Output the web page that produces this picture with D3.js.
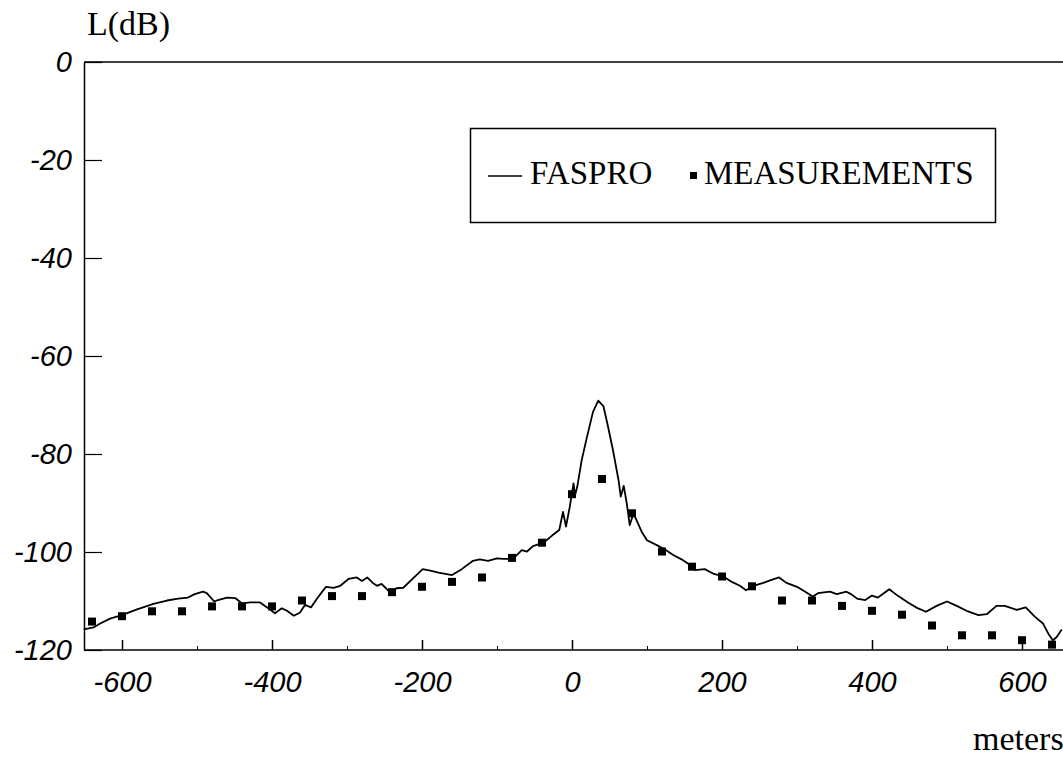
<!DOCTYPE html>
<html>
<head>
<meta charset="utf-8">
<script src="https://cdn.jsdelivr.net/npm/d3@7"></script>
<style>
  body { margin: 0; background: #fff; }
  .tick text { font-family: "Liberation Sans", Arial, sans-serif; font-style: italic; font-size: 29px; fill: #000; }
  .serif { font-family: "Liberation Serif", "Times New Roman", serif; fill: #000; }
</style>
</head>
<body>
<div id="chart"></div>
<script>
// FASPRO prediction (distance in m, level in dB)
var fasproX = [-651, -638, -629, -616, -600, -580, -558, -540, -525, -512, -503, -492, -487, -477, -472, -460, -449, -440, -429, -416,
  -405, -396, -387, -380, -371, -363, -356, -348, -338, -328, -318, -309, -298, -287, -280, -273, -265, -260, -254, -248,
  -242, -234, -225, -212, -199, -189, -178, -167, -160, -147, -132, -123, -112, -100, -92, -83, -78, -67, -60, -52,
  -38, -27, -17, -12, -8, -5, -3, 2, 4, 7, 13, 20, 28, 35, 42, 48, 55, 62, 65, 69,
  73, 77, 82, 86, 93, 100, 113, 124, 135, 146, 155, 164, 177, 188, 202, 213, 224, 232, 242, 255,
  266, 276, 286, 300, 311, 321, 328, 344, 353, 366, 372, 380, 391, 400, 408, 423, 435, 448, 460, 472,
  486, 500, 513, 526, 542, 553, 566, 577, 593, 605, 617, 628, 636, 641, 646, 653];
var fasproDb = [-115.8, -115.4, -114.6, -113.6, -112.9, -111.7, -110.6, -109.9, -109.5, -109.3, -108.6, -108.1, -108.4, -110.1, -109.8, -109.3, -109.4, -110.5, -110.3, -110.3,
  -111.5, -112.5, -111.5, -112.0, -113.0, -112.4, -110.8, -111.3, -109.1, -107.1, -107.3, -106.9, -105.5, -105.2, -105.9, -105.2, -106.4, -106.9, -106.5, -107.4,
  -108.4, -107.4, -107.3, -105.4, -103.5, -103.8, -104.2, -104.5, -104.7, -103.5, -101.8, -101.5, -101.8, -101.3, -101.4, -101.4, -101.3, -99.6, -99.9, -98.8,
  -98.1, -96.7, -95.5, -91.8, -94.8, -92.4, -90.8, -86.0, -88.4, -86.7, -81.2, -76.5, -71.4, -69.1, -70.3, -74.4, -79.5, -85.3, -88.7, -86.5,
  -90.1, -94.5, -92.1, -93.5, -95.9, -97.6, -98.6, -99.5, -100.6, -101.5, -102.4, -103.7, -103.5, -104.4, -105.0, -106.1, -106.9, -107.8, -106.9, -106.3,
  -105.7, -105.2, -106.3, -107.1, -108.1, -109.1, -108.4, -108.1, -108.6, -108.1, -108.6, -109.5, -109.8, -108.9, -109.3, -107.6, -109.0, -110.3, -111.4, -112.2,
  -111.0, -110.1, -111.0, -112.0, -112.9, -112.7, -111.0, -111.0, -111.8, -111.3, -113.2, -114.6, -116.9, -118.0, -117.4, -115.8];

// measurements
var measX = [-640, -600, -560, -520, -480, -440, -400, -360, -320, -280, -240, -200, -160, -120, -80, -40, 0,
  40, 80, 120, 160, 200, 240, 280, 320, 360, 400, 440, 480, 520, 560, 600, 640];
var measDb = [-114.2, -113.1, -112.1, -112.1, -111.1, -111.1, -111.1, -109.9, -109.0, -109.0, -108.2, -107.1, -106.1, -105.2, -101.2, -98.1, -88.2,
  -85.1, -92.1, -99.9, -103.0, -105.0, -107.0, -109.9, -109.9, -111.0, -112.0, -112.8, -115.0, -117.0, -117.0, -118.0, -118.9];

var xTicks = [-600, -400, -200, 0, 200, 400, 600];
var xMinorTicks = [-500, -300, -100, 100, 300, 500];
var yTicks = [0, -20, -40, -60, -80, -100, -120];

var w = 1063, h = 760;
var plotLeft = 84, plotTop = 62, plotBottom = 650;

var svg = d3.select("#chart").append("svg")
    .attr("width", w)
    .attr("height", h);

var x = d3.scaleLinear().domain([-650, 650]).range([84.5, 1059.5]);
var y = d3.scaleLinear().domain([-120, 0]).range([plotBottom, plotTop]);

var fmt = function(d) { return String(d); }; // plain hyphen for minus

// frame: top line runs off the right edge
svg.append("line")
    .attr("x1", plotLeft).attr("x2", w)
    .attr("y1", plotTop).attr("y2", plotTop)
    .attr("stroke", "#000").attr("stroke-width", 1.5);

var yAxis = d3.axisLeft(y).tickValues(yTicks).tickSizeInner(-18).tickSizeOuter(0).tickPadding(12)
    .tickFormat(fmt);
svg.append("g")
    .attr("transform", "translate(" + plotLeft + ",0)")
    .call(yAxis)
    .call(function(g) {
        g.select(".domain").attr("stroke-width", 1.5);
        g.selectAll(".tick line").attr("stroke-width", 1.2);
    });

var xAxis = d3.axisBottom(x).tickValues(xTicks).tickSizeInner(-10).tickSizeOuter(0).tickPadding(21)
    .tickFormat(fmt);
svg.append("g")
    .attr("transform", "translate(0," + plotBottom + ")")
    .call(xAxis)
    .call(function(g) {
        g.select(".domain").attr("d", "M" + plotLeft + ",0H" + w).attr("stroke-width", 1.5);
        g.selectAll(".tick line").attr("stroke-width", 1.5);
    });

// minor ticks on the x axis
svg.append("g")
    .attr("transform", "translate(0," + plotBottom + ")")
    .call(d3.axisBottom(x).tickValues(xMinorTicks).tickSizeInner(-4).tickSizeOuter(0).tickFormat(""))
    .call(function(g) { g.select(".domain").remove(); });

// FASPRO line
var line = d3.line()
    .x(function(d, i) { return x(fasproX[i]); })
    .y(function(d, i) { return y(fasproDb[i]); });

svg.append("path")
    .datum(fasproX)
    .attr("d", line)
    .attr("fill", "none")
    .attr("stroke", "#000")
    .attr("stroke-width", 1.8)
    .attr("stroke-linejoin", "round");

// measurement squares
var sq = 8;
svg.selectAll(".meas")
    .data(measX)
    .enter()
    .append("rect")
    .attr("class", "meas")
    .attr("x", function(d) { return x(d) - sq / 2; })
    .attr("y", function(d, i) { return y(measDb[i]) - sq / 2; })
    .attr("width", sq)
    .attr("height", sq)
    .attr("fill", "#000");

// axis titles
svg.append("text")
    .attr("class", "serif")
    .attr("x", 87).attr("y", 35)
    .style("font-size", "34px")
    .text("L(dB)");

svg.append("text")
    .attr("class", "serif")
    .attr("x", 973).attr("y", 750)
    .style("font-size", "34px")
    .text("meters");

// legend
var lg = svg.append("g");
lg.append("rect")
    .attr("x", 470.5).attr("y", 128.5)
    .attr("width", 525).attr("height", 94)
    .attr("fill", "none").attr("stroke", "#000").attr("stroke-width", 1.5);
lg.append("line")
    .attr("x1", 488).attr("x2", 522)
    .attr("y1", 176).attr("y2", 176)
    .attr("stroke", "#000").attr("stroke-width", 1.5);
lg.append("text")
    .attr("class", "serif")
    .attr("x", 530).attr("y", 184)
    .style("font-size", "33px")
    .text("FASPRO");
lg.append("rect")
    .attr("x", 690).attr("y", 172)
    .attr("width", 7).attr("height", 7)
    .attr("fill", "#000");
lg.append("text")
    .attr("class", "serif")
    .attr("x", 704).attr("y", 184)
    .style("font-size", "33px")
    .text("MEASUREMENTS");
</script>
</body>
</html>
